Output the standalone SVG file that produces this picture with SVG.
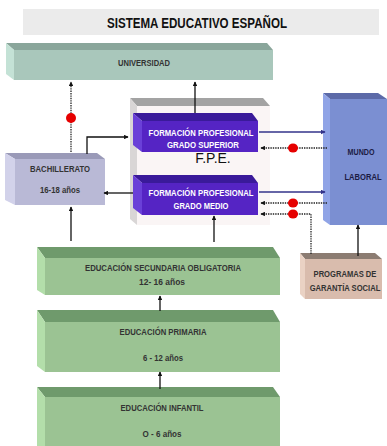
<svg xmlns="http://www.w3.org/2000/svg" width="387" height="446" viewBox="0 0 387 446">
<style>
text{font-family:"Liberation Sans",Arial,sans-serif;font-weight:bold;text-anchor:middle;fill:#333}
.t{font-size:9.5px}
.w{fill:#fff;font-size:9.5px}
.ln{stroke:#111;stroke-width:1.3;fill:none}
.bl{stroke:#33338a;stroke-width:1.3;fill:none}
.dt{stroke:#222;stroke-width:1.3;stroke-dasharray:1.4 1;fill:none}
.dot{fill:#e60000}
.gf{fill:#9bc393}.gt{fill:#6f9a6c}.gl{fill:#b3deaa}
</style>
<defs>
<marker id="ah" viewBox="0 0 8 8" refX="7" refY="4" markerWidth="4.5" markerHeight="4.5" orient="auto" markerUnits="userSpaceOnUse"><path d="M0,0 L8,4 L0,8 z" fill="#111"/></marker>
<marker id="ab" viewBox="0 0 8 8" refX="7" refY="4" markerWidth="5" markerHeight="5" orient="auto" markerUnits="userSpaceOnUse"><path d="M0,0 L8,4 L0,8 z" fill="#33338a"/></marker>
</defs>

<g id="title">
<rect x="23" y="9" width="356" height="26" fill="#ebebeb"/>
<text x="197" y="28" style="font-size:14px;fill:#111" textLength="180" lengthAdjust="spacingAndGlyphs">SISTEMA EDUCATIVO ESPAÑOL</text>
</g>

<g id="universidad">
<polygon points="6,43 267,43 273,50 14,50" fill="#8aa69b"/>
<polygon points="6,43 14,50 14,80 6,74" fill="#c4e2d6"/>
<rect x="14" y="50" width="259" height="30" fill="#a9c7bb"/>
<text class="t" x="144" y="66" textLength="52" lengthAdjust="spacingAndGlyphs">UNIVERSIDAD</text>
</g>

<g id="fpe">
<polygon points="130,98 263,98 270,106 137,106" fill="#a3a3a3"/>
<polygon points="130,98 137,106 137,225 130,219" fill="#d9d6d6"/>
<rect x="137" y="106" width="133" height="119" fill="#faf5f5"/>
<text x="213" y="163" style="font-weight:normal;font-size:14px;fill:#111">F.P.E.</text>
</g>

<g id="fp-superior">
<polygon points="133,113 252,113 258,121 142,121" fill="#3a1a9a"/>
<polygon points="133,113 142,121 142,152 133,145" fill="#6a40d8"/>
<rect x="142" y="121" width="116" height="31" fill="#5524c4"/>
<text class="w" x="201" y="136" textLength="105" lengthAdjust="spacingAndGlyphs">FORMACIÓN PROFESIONAL</text>
<text class="w" x="203" y="148" textLength="72" lengthAdjust="spacingAndGlyphs">GRADO SUPERIOR</text>
</g>

<g id="fp-medio">
<polygon points="133,175 252,175 258,183 142,183" fill="#3a1a9a"/>
<polygon points="133,175 142,183 142,215 133,208" fill="#6a40d8"/>
<rect x="142" y="183" width="116" height="32" fill="#5524c4"/>
<text class="w" x="201" y="196" textLength="105" lengthAdjust="spacingAndGlyphs">FORMACIÓN PROFESIONAL</text>
<text class="w" x="201" y="209" textLength="55" lengthAdjust="spacingAndGlyphs">GRADO MEDIO</text>
</g>

<g id="bachillerato">
<polygon points="5,153 97,153 105,159 15,159" fill="#9a9ab8"/>
<polygon points="5,153 15,159 15,205 5,200" fill="#d2d2ea"/>
<rect x="15" y="159" width="90" height="46" fill="#b9b9d6"/>
<text class="t" x="60" y="172" textLength="60" lengthAdjust="spacingAndGlyphs">BACHILLERATO</text>
<text class="t" x="60" y="193" textLength="40" lengthAdjust="spacingAndGlyphs">16-18 años</text>
</g>

<g id="mundo-laboral">
<polygon points="323,93 378,93 387,99 330,99" fill="#5c6aa8"/>
<polygon points="323,93 330,99 330,225 323,220" fill="#90a4e6"/>
<rect x="330" y="99" width="57" height="126" fill="#7b8fd2"/>
<text class="t" transform="translate(361,155) scale(0.75,1)" style="fill:#1c1c44">MUNDO</text>
<text class="t" transform="translate(363,180) scale(0.8,1)" style="fill:#1c1c44">LABORAL</text>
</g>

<g id="garantia-social">
<polygon points="300,253 375,253 382,259 305,259" fill="#8c7c72"/>
<polygon points="300,253 305,259 305,299 300,294" fill="#ead2c4"/>
<rect x="305" y="259" width="77" height="40" fill="#d9bcad"/>
<text class="t" transform="translate(345,277) scale(0.8,1)">PROGRAMAS DE</text>
<text class="t" transform="translate(345,291) scale(0.8,1)">GARANTÍA SOCIAL</text>
</g>

<g id="eso">
<polygon class="gt" points="37,247 273,247 280,258 45,258"/>
<polygon class="gl" points="37,247 45,258 45,295 37,290"/>
<rect class="gf" x="45" y="258" width="235" height="37"/>
<text class="t" x="163" y="271" textLength="156" lengthAdjust="spacingAndGlyphs">EDUCACIÓN SECUNDARIA OBLIGATORIA</text>
<text class="t" x="162" y="285" textLength="46" lengthAdjust="spacingAndGlyphs">12- 16 años</text>
</g>

<g id="primaria">
<polygon class="gt" points="37,310 273,310 280,322 45,322"/>
<polygon class="gl" points="37,310 45,322 45,372 37,366"/>
<rect class="gf" x="45" y="322" width="235" height="50"/>
<text class="t" x="163" y="335" textLength="87" lengthAdjust="spacingAndGlyphs">EDUCACIÓN PRIMARIA</text>
<text class="t" x="163" y="361" textLength="40" lengthAdjust="spacingAndGlyphs">6 - 12 años</text>
</g>

<g id="infantil">
<polygon class="gt" points="37,387 273,387 280,397 45,397"/>
<polygon class="gl" points="37,387 45,397 45,446 37,446"/>
<rect class="gf" x="45" y="397" width="235" height="49"/>
<text class="t" x="162" y="411" textLength="83" lengthAdjust="spacingAndGlyphs">EDUCACIÓN INFANTIL</text>
<text class="t" x="162" y="437" textLength="39" lengthAdjust="spacingAndGlyphs">O - 6 años</text>
</g>

<g id="connectors">
<path class="dt" d="M71,152 V82" marker-end="url(#ah)"/>
<ellipse class="dot" cx="71" cy="118" rx="5" ry="5"/>
<path class="ln" d="M195,113 V82" marker-end="url(#ah)"/>
<path class="ln" d="M87,154 V137 H128" marker-end="url(#ah)"/>
<path class="ln" d="M133,193 H104" marker-end="url(#ah)"/>
<path class="ln" d="M71,241 V207" marker-end="url(#ah)"/>
<path class="ln" d="M214,242 V216" marker-end="url(#ah)"/>
<path class="ln" d="M160,311 V296" marker-end="url(#ah)"/>
<path class="ln" d="M160,389 V372" marker-end="url(#ah)"/>
<path class="bl" d="M259,132 H325" marker-end="url(#ab)"/>
<path class="bl" d="M259,192 H325" marker-end="url(#ab)"/>
<path class="dt" d="M327,148 H261" marker-end="url(#ah)"/>
<ellipse class="dot" cx="293" cy="148" rx="5" ry="4.5"/>
<path class="dt" d="M327,203 H261" marker-end="url(#ah)"/>
<ellipse class="dot" cx="293" cy="203" rx="5" ry="4.5"/>
<path class="dt" d="M311,254 V214 H261" marker-end="url(#ah)"/>
<ellipse class="dot" cx="293" cy="214" rx="5" ry="4.5"/>
<path class="ln" d="M358,256 V225" marker-end="url(#ah)"/>
</g>
</svg>
